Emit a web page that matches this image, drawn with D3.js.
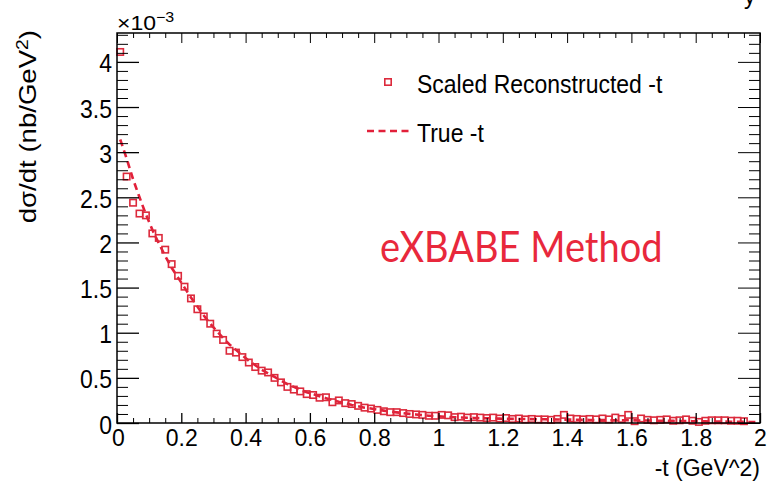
<!DOCTYPE html>
<html><head><meta charset="utf-8">
<script src="https://cdn.jsdelivr.net/npm/d3@7"></script>
<style>body{margin:0;background:#fff}svg{display:block}text{font-family:"Liberation Sans",Arial,sans-serif}</style>
</head><body><svg id="c" width="768" height="491"></svg>
<script>
// bin centres of -t (GeV^2)
const binCenters = d3.range(100).map(i => +(0.01 + 0.02*i).toFixed(2));
// Scaled reconstructed -t (x1e-3 nb/GeV^2)
const recoValues = [4.11,2.73,2.44,2.32,2.30,2.10,2.05,1.92,1.76,1.63,
 1.51,1.38,1.26,1.18,1.10,0.99,0.92,0.80,0.78,0.73,
 0.67,0.62,0.58,0.56,0.50,0.45,0.40,0.37,0.35,0.32,
 0.31,0.28,0.285,0.23,0.25,0.22,0.21,0.19,0.17,0.16,
 0.145,0.13,0.12,0.12,0.11,0.10,0.095,0.09,0.08,0.08,
 0.09,0.085,0.065,0.07,0.06,0.065,0.06,0.055,0.06,0.05,
 0.055,0.045,0.05,0.04,0.045,0.04,0.04,0.035,0.045,0.09,
 0.05,0.045,0.04,0.045,0.04,0.05,0.04,0.06,0.045,0.09,
 0.02,0.05,0.035,0.03,0.035,0.04,0.025,0.03,0.04,0.025,
 0.012,0.025,0.03,0.03,0.03,0.025,0.025,0.02,null,null];
// True -t (x1e-3 nb/GeV^2)
const trueValues = [3.14,2.93,2.70,2.50,2.31,2.14,1.99,1.85,1.72,1.61,
 1.50,1.39,1.29,1.19,1.10,1.02,0.94,0.87,0.81,0.75,
 0.69,0.64,0.59,0.55,0.51,0.47,0.43,0.40,0.37,0.34,
 0.32,0.295,0.275,0.255,0.235,0.22,0.20,0.185,0.17,0.16,
 0.148,0.137,0.127,0.118,0.109,0.101,0.094,0.087,0.081,0.075,
 0.072,0.068,0.064,0.061,0.058,0.056,0.054,0.052,0.050,0.048,
 0.047,0.046,0.045,0.044,0.043,0.042,0.041,0.040,0.039,0.038,
 0.037,0.036,0.035,0.034,0.033,0.032,0.031,0.031,0.030,0.030,
 0.029,0.028,0.027,0.026,0.025,0.024,0.023,0.022,0.021,0.020,
 0.019,0.018,0.017,0.016,0.015,0.014,0.013,0.012,0.011,0.010];
const xMajor = [0,0.2,0.4,0.6,0.8,1,1.2,1.4,1.6,1.8,2];
const xTickLabels = ["0","0.2","0.4","0.6","0.8","1","1.2","1.4","1.6","1.8","2"];
const yMajor = [0,0.5,1,1.5,2,2.5,3,3.5,4];
const yTickLabels = ["0","0.5","1","1.5","2","2.5","3","3.5","4"];
const legendLabels = ["Scaled Reconstructed -t","True -t"];

const svg = d3.select("#c");
const L=117,R=760,T=33,B=423;
const x = d3.scaleLinear([0,2],[L,R]);
const y = d3.scaleLinear([0,4.32],[B,T]);
const red="#dc2a3c", lineRed="#e2203a";

// text helper with vertical stretch
function stext(px,py,sy,size,str,anchor){
  return svg.append("text").attr("transform",`translate(${px},${py}) scale(1,${sy})`)
    .attr("font-size",size).attr("text-anchor",anchor||"start").attr("fill","#000").text(str);
}

// true curve
const line = d3.line().x((d,i)=>x(binCenters[i])).y(d=>y(d));
svg.append("path").attr("d",line(trueValues)).attr("fill","none")
 .attr("stroke",lineRed).attr("stroke-width",2.6).attr("stroke-dasharray","7,4.5");

// markers
const ms=6.4;
svg.append("g").selectAll("rect").data(recoValues.map((v,i)=>[binCenters[i],v]).filter(d=>d[1]!=null))
 .join("rect").attr("x",d=>x(d[0])-ms/2).attr("y",d=>y(d[1])-ms/2).attr("width",ms).attr("height",ms)
 .attr("fill","none").attr("stroke",red).attr("stroke-width",1.6);

// frame
svg.append("rect").attr("x",L).attr("y",T).attr("width",R-L).attr("height",B-T)
 .attr("fill","none").attr("stroke","#000").attr("stroke-width",1.5);

// axes with ROOT-style inward ticks
const xMinor = d3.range(0,2.0001,0.05).filter(v=>Math.abs(v*5-Math.round(v*5))>1e-6);
const yMinor = d3.range(0,4.3201,0.1).filter(v=>Math.abs(v*2-Math.round(v*2))>1e-6);
const bx = svg.append("g").attr("transform",`translate(0,${B})`)
 .call(d3.axisBottom(x).tickValues(xMajor).tickSize(-10).tickFormat((d,i)=>xTickLabels[i]).tickPadding(0));
bx.select(".domain").remove();
bx.selectAll(".tick text").attr("y",23).attr("dy",0).attr("font-size",23).attr("fill","#000");
bx.selectAll(".tick line").attr("stroke-width",1.3);
bx.selectAll(".tick text").filter((d,i)=>i===0).attr("x",1);
const bxm = svg.append("g").attr("transform",`translate(0,${B})`)
 .call(d3.axisBottom(x).tickValues(xMinor).tickSize(-5).tickFormat(""));
bxm.select(".domain").remove();
const tx = svg.append("g").attr("transform",`translate(0,${T})`)
 .call(d3.axisTop(x).tickValues(xMajor).tickSize(-10).tickFormat(""));
tx.select(".domain").remove();
const txm = svg.append("g").attr("transform",`translate(0,${T})`)
 .call(d3.axisTop(x).tickValues(xMinor).tickSize(-5).tickFormat(""));
txm.select(".domain").remove();

const ly = svg.append("g").attr("transform",`translate(${L},0)`)
 .call(d3.axisLeft(y).tickValues(yMajor).tickSize(-22).tickFormat((d,i)=>yTickLabels[i]).tickPadding(0));
ly.select(".domain").remove();
ly.selectAll(".tick text").attr("x",0).attr("dy",0).attr("y",0)
  .attr("transform","translate(-5,10) scale(1,1.15)").attr("font-size",23).attr("fill","#000");
ly.selectAll(".tick line").attr("stroke-width",1.3);
const lym = svg.append("g").attr("transform",`translate(${L},0)`)
 .call(d3.axisLeft(y).tickValues(yMinor).tickSize(-11).tickFormat(""));
lym.select(".domain").remove();
const ry = svg.append("g").attr("transform",`translate(${R},0)`)
 .call(d3.axisRight(y).tickValues(yMajor).tickSize(-22).tickFormat(""));
ry.select(".domain").remove();
const rym = svg.append("g").attr("transform",`translate(${R},0)`)
 .call(d3.axisRight(y).tickValues(yMinor).tickSize(-11).tickFormat(""));
rym.select(".domain").remove();
svg.selectAll(".tick line").attr("stroke","#000");

// exponent
const ex = svg.append("text").attr("transform",`translate(${L},30) scale(1,0.9)`).attr("font-size",23).attr("fill","#000");
ex.append("tspan").text("\u00d710");
ex.append("tspan").attr("dy",-9).attr("font-size",16).text("\u22123");

// axis titles
stext(R,476,1.0,23,"-t (GeV^2)","end");
const yt = svg.append("text").attr("transform","translate(36,30) scale(1,1.2) rotate(-90)").attr("text-anchor","end").attr("font-size",23);
yt.append("tspan").text("d\u03c3/dt (nb/GeV");
yt.append("tspan").attr("dy",-8).attr("font-size",16).text("2");
yt.append("tspan").attr("dy",8).text(")");

// legend
svg.append("rect").attr("x",388-ms/2).attr("y",82-ms/2).attr("width",ms).attr("height",ms)
 .attr("fill","none").attr("stroke",red).attr("stroke-width",1.6);
stext(417,93,1.12,23,legendLabels[0]);
svg.append("line").attr("x1",367).attr("x2",409).attr("y1",131).attr("y2",131)
 .attr("stroke",lineRed).attr("stroke-width",2.6).attr("stroke-dasharray","7,4.5");
stext(417,142,1.12,23,legendLabels[1]);

// annotation
stext(380,262,1.1,38,"eXBABE Method").style("font-family","Lato, 'Open Sans', sans-serif").attr("fill","#e8283c");

// clipped glyph at top right
svg.append("text").attr("x",744).attr("y",4).attr("font-size",23).text("y");
</script></body></html>
